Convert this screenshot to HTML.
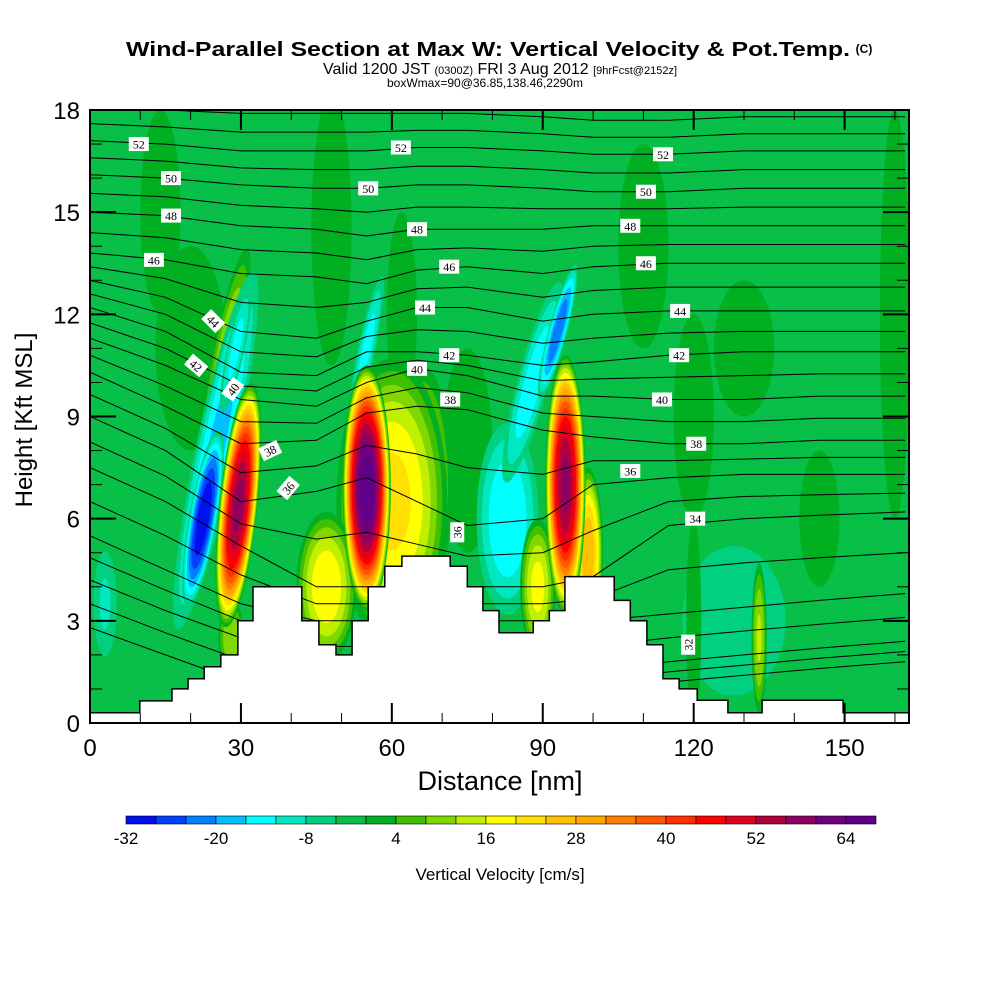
<!DOCTYPE html>
<html><head><meta charset="utf-8">
<style>
html,body{margin:0;padding:0;background:#fff;}
svg{display:block;font-family:"Liberation Sans",Arial,sans-serif;}
</style></head>
<body>
<svg id="chart" width="1000" height="1000" viewBox="0 0 1000 1000">
<defs><clipPath id="plotclip"><rect x="90" y="110" width="819" height="613"/></clipPath></defs>
<text x="488" y="56" text-anchor="middle" font-size="20" font-weight="bold" textLength="724" lengthAdjust="spacingAndGlyphs">Wind-Parallel Section at Max W: Vertical Velocity &amp; Pot.Temp.</text>
<text x="864" y="53" text-anchor="middle" font-size="12" font-weight="bold">(C)</text>
<text x="500" y="74" text-anchor="middle" font-size="16">Valid 1200 JST <tspan font-size="11">(0300Z)</tspan> FRI 3 Aug 2012 <tspan font-size="11">[9hrFcst@2152z]</tspan></text>
<text x="485" y="87" text-anchor="middle" font-size="12">boxWmax=90@36.85,138.46,2290m</text>
<g id="field" clip-path="url(#plotclip)"></g>
<g id="contours" clip-path="url(#plotclip)"></g>
<g id="terrain" clip-path="url(#plotclip)"></g>
<g id="labels"></g>
<g id="axes"></g>
<g id="cbar"></g>
<text x="32" y="420" transform="rotate(-90 32 420)" text-anchor="middle" font-size="24">Height [Kft MSL]</text>
<text x="500" y="790" text-anchor="middle" font-size="27">Distance [nm]</text>
<text x="500" y="880" text-anchor="middle" font-size="17">Vertical Velocity [cm/s]</text>
</svg>
<script>
// ---- data ----
const cbarLevels=[-32,-28,-24,-20,-16,-12,-8,-4,0,4,8,12,16,20,24,28,32,36,40,44,48,52,56,60,64,68];
const cbarColors=["#0010f0","#0040ff","#0080ff","#00c0ff","#00ffff","#00e8c0","#00d080","#08c048","#00b020","#40c000","#80d800","#c0f000","#ffff00","#ffe000","#ffc000","#ffa800","#ff8000","#ff5800","#ff3000","#ff0000","#e00020","#b00040","#900060","#700080","#600088"];
const cbarTickVals=[-32,-20,-8,4,16,28,40,52,64];
const xTickVals=[0,30,60,90,120,150];
const yTickVals=[0,3,6,9,12,15,18];
const backgroundValue=-2;
// blobs: center x (nm), center y (kft), radius x (nm), radius y (kft), peak (cm/s), tilt (deg)
const blobX=[20,14,48,110,160,130,75,62,27,120,3,25,22.5,29,55,66,60,47,83,88,93,89,99,128,120,133,28,145];
const blobY=[11,15,14.5,14,12,11,8,12,11,9,3.5,8,6,11,11,7,6.5,4,6,10,11.5,4,5,3,3,2.5,2.5,6];
const blobRx=[7,4,4,5,3,6,5,3,2.5,4,3,4.5,3,2,2,6,11,6,7,3.5,2,3.5,3,14,1.5,1.5,2.5,4];
const blobRy=[3,3,4,3,6,2,3,3,3,3,2,6,2.8,2.2,2.5,3.5,4.2,2.2,3.2,3.5,2.2,2,2.5,3,3,2.2,1.2,2];
const blobPeak=[3,3,3,3,3,3,3,3,12,3,-9,-18,-32,-14,-14,14,22,20,-16,-15,-24,18,28,-8,4,13,12,3];
const blobTilt=[0,0,0,0,0,0,0,0,12,0,0,12,10,12,12,0,0,0,0,15,15,0,0,0,0,0,0,0];
const updraftA={x:29.5,y:6.4,rx:3.8,ry:3.6,peak:58,tilt:6};
const updraftB={x:55,y:6.9,rx:4.8,ry:3.6,peak:68,tilt:0};
const updraftC={x:94.5,y:7,rx:4,ry:3.8,peak:58,tilt:0};
// theta contours (K) at x nodes
const thetaNodes=[0,15,30,45,55,65,75,90,100,115,130,145,162];
const thetaLevels=[28,30,32,34,36,38,40,42,44,46,48,50,52,54];
const thetaHeights=[
[2.8,2.0,1.2,1.0,1.0,1.0,1.0,1.0,1.0,1.2,1.4,1.6,1.8],
[4.2,3.3,2.5,1.5,1.5,1.5,1.5,1.5,1.5,1.8,2.0,2.2,2.4],
[5.5,4.5,3.5,3.0,3.0,3.0,3.0,3.0,3.0,3.2,3.4,3.6,3.8],
[7.5,6.5,5.2,4.0,4.0,4.0,4.0,4.0,4.3,5.8,6.0,6.1,6.2],
[9.0,8.0,6.5,6.8,7.2,6.5,5.8,6.0,7.0,7.2,7.3,7.3,7.3],
[10.3,9.3,8.2,8.3,9.1,9.3,9.2,8.6,8.4,8.2,8.2,8.3,8.3],
[11.3,10.5,9.5,9.3,10.0,10.4,10.2,9.6,9.6,9.5,9.5,9.6,9.6],
[12.2,11.5,10.3,10.2,10.9,10.9,10.8,10.5,10.6,10.8,10.9,10.9,10.9],
[13.0,12.5,11.5,11.3,11.8,12.2,12.2,11.8,12.0,12.1,12.1,12.1,12.1],
[13.8,13.6,13.2,13.1,12.9,13.3,13.4,13.2,13.4,13.5,13.5,13.5,13.5],
[15.0,14.9,14.6,14.5,14.3,14.5,14.5,14.5,14.6,14.6,14.6,14.6,14.6],
[16.1,16.0,15.8,15.7,15.7,15.8,15.8,15.7,15.6,15.6,15.7,15.7,15.7],
[17.1,17.0,16.8,16.8,16.8,16.9,16.9,16.8,16.7,16.7,16.8,16.8,16.8],
[18.1,18.0,17.9,17.9,17.9,17.9,17.9,17.8,17.7,17.7,17.8,17.8,17.8]];
const labelX=[9.7,61.8,113.9,16.1,55.3,110.5,16.1,65,107.4,12.7,71.4,110.5,24.5,66.6,117.3,21.1,71.4,117.1,28.4,65,113.7,35.8,71.6,120.5,39.4,73,107.4,120.3,118.9];
const labelY=[17.0,16.9,16.7,16.0,15.7,15.6,14.9,14.5,14.6,13.6,13.4,13.5,11.8,12.2,12.1,10.5,10.8,10.8,9.8,10.4,9.5,8.0,9.5,8.2,6.9,5.6,7.4,6.0,2.3];
const labelText=["52","52","52","50","50","50","48","48","48","46","46","46","44","44","44","42","42","42","40","40","40","38","38","38","36","36","36","34","32"];
const labelRot=[0,0,0,0,0,0,0,0,0,0,0,0,45,0,0,40,0,0,-55,0,0,-25,0,0,-50,-90,0,0,-90];
// terrain steps: start distance (nm), height (kft)
const terrainStart=[0,9.9,16.3,19.5,22.7,26.0,29.4,32.4,42.1,45.5,48.9,52.1,55.3,58.6,62.0,71.6,75.0,78.1,81.3,88.1,91.3,94.4,104.2,107.4,110.7,113.9,117.1,120.7,126.8,133.6,149.7];
const terrainHeight=[0.3,0.65,1.0,1.3,1.65,2.0,3.0,4.0,3.0,2.3,2.0,3.0,4.0,4.6,4.9,4.6,4.0,3.3,2.65,3.0,3.3,4.3,3.6,3.0,2.3,1.3,1.0,0.67,0.3,0.67,0.3];
const xMax=162.8;

// ---- scales ----
const X0=90,X1=909,Y0=723,Y1=110;
const sx=v=>X0+v*(X1-X0)/xMax;
const sy=v=>Y0-v*(Y0-Y1)/18;
const NS="http://www.w3.org/2000/svg";
function mk(tag,attrs,parent){const e=document.createElementNS(NS,tag);for(const k in attrs)e.setAttribute(k,attrs[k]);parent.appendChild(e);return e;}
function colorFor(v){let i=Math.floor((v-cbarLevels[0])/4);i=Math.max(0,Math.min(cbarColors.length-1,i));return cbarColors[i];}

// ---- field ----
const field=document.getElementById('field');
const bg=mk('rect',{x:X0,y:Y1,width:X1-X0,height:Y0-Y1,fill:colorFor(backgroundValue)},field);


function drawBlob(cx,cy,rx,ry,peak,tilt,idx){
  const g=mk('g',{},field);
  
  
  const pxr=rx*(X1-X0)/xMax, pyr=ry*(Y0-Y1)/18;
  const start=peak>0?0:-4; const step=peak>0?4:-4;
  for(let l=start; peak>0? l<peak : l>peak; l+=step){
    const s=Math.pow(1-l/peak,0.45);
    const val=peak>0?l+2:l-2;
    const e=mk('ellipse',{cx:sx(cx),cy:sy(cy),rx:pxr*s,ry:pyr*s,fill:colorFor(val),transform:`rotate(${tilt} ${sx(cx)} ${sy(cy)})`},g);
    
    
  }
}
for(let i=0;i<blobX.length;i++)drawBlob(blobX[i],blobY[i],blobRx[i],blobRy[i],blobPeak[i],blobTilt[i],i);
drawBlob(updraftA.x,updraftA.y,updraftA.rx,updraftA.ry,updraftA.peak,updraftA.tilt,'updraft-a');
drawBlob(updraftB.x,updraftB.y,updraftB.rx,updraftB.ry,updraftB.peak,updraftB.tilt,'updraft-b');
drawBlob(updraftC.x,updraftC.y,updraftC.rx,updraftC.ry,updraftC.peak,updraftC.tilt,'updraft-c');

// ---- contours ----
const cg=document.getElementById('contours');
function drawLine(hts,name){
  const pts=thetaNodes.map((x,i)=>sx(x).toFixed(1)+','+sy(hts[i]).toFixed(1)).join(' ');
  const p=mk('polyline',{points:pts,fill:'none',stroke:'#000','stroke-width':1},cg);
  
  
}
for(let i=0;i<thetaLevels.length;i++){
  drawLine(thetaHeights[i],'theta-'+thetaLevels[i]);
  if(i<thetaLevels.length-1){
    const mid=thetaHeights[i].map((h,j)=>(h+thetaHeights[i+1][j])/2);
    drawLine(mid,'theta-'+(thetaLevels[i]+1));
  }
}

// ---- terrain ----
const tg=document.getElementById('terrain');
let d='M'+sx(0)+','+sy(0);
for(let i=0;i<terrainStart.length;i++){
  const xe=i<terrainStart.length-1?terrainStart[i+1]:xMax;
  d+=` L${sx(terrainStart[i]).toFixed(1)},${sy(terrainHeight[i]).toFixed(1)} L${sx(xe).toFixed(1)},${sy(terrainHeight[i]).toFixed(1)}`;
}
d+=` L${sx(xMax)},${sy(0)} Z`;
const tp=mk('path',{d:d,fill:'#fff',stroke:'#000','stroke-width':1.5},tg);



// ---- contour labels ----
const lg=document.getElementById('labels');
for(let i=0;i<labelX.length;i++){
  const x=sx(labelX[i]),y=sy(labelY[i]);
  const g=mk('g',{transform:`translate(${x} ${y}) rotate(${labelRot[i]})`},lg);
  
  
  mk('rect',{x:-10,y:-7,width:20,height:14,fill:'#fff'},g);
  const t=mk('text',{x:0,y:4.5,'text-anchor':'middle','font-size':12,'font-family':'Liberation Serif, serif'},g);
  t.textContent=labelText[i];
}

// ---- axes ----
const ag=document.getElementById('axes');
const fr=mk('rect',{x:X0,y:Y1,width:X1-X0,height:Y0-Y1,fill:'none',stroke:'#000','stroke-width':2},ag);


for(let v=10;v<xMax;v+=10){
  const major=v%30===0, L=major?20:10;
  mk('line',{x1:sx(v),x2:sx(v),y1:Y0,y2:Y0-L,stroke:'#000','stroke-width':major?2:1},ag);
  mk('line',{x1:sx(v),x2:sx(v),y1:Y1,y2:Y1+L,stroke:'#000','stroke-width':major?2:1},ag);
}
for(let v=1;v<18;v++){
  const major=v%3===0, L=major?26:12;
  mk('line',{x1:X0,x2:X0+L,y1:sy(v),y2:sy(v),stroke:'#000','stroke-width':major?2:1},ag);
  mk('line',{x1:X1,x2:X1-L,y1:sy(v),y2:sy(v),stroke:'#000','stroke-width':major?2:1},ag);
}
xTickVals.forEach(v=>{
  const t=mk('text',{x:sx(v),y:756,'text-anchor':'middle','font-size':24},ag);
  
  
  t.textContent=v;
});
yTickVals.forEach(v=>{
  const t=mk('text',{x:80,y:sy(v)+9,'text-anchor':'end','font-size':24},ag);
  
  
  t.textContent=v;
});

// ---- colorbar ----
const cb=document.getElementById('cbar');
const CB0=126,CBW=30;
for(let i=0;i<cbarColors.length;i++){
  const r=mk('rect',{x:CB0+i*CBW,y:816,width:CBW,height:8,fill:cbarColors[i],stroke:'#000','stroke-width':0.6},cb);
  
  
}
cbarTickVals.forEach(v=>{
  const t=mk('text',{x:CB0+(v-cbarLevels[0])/4*CBW,y:844,'text-anchor':'middle','font-size':17},cb);
  
  
  t.textContent=v;
});
</script>
</body></html>
